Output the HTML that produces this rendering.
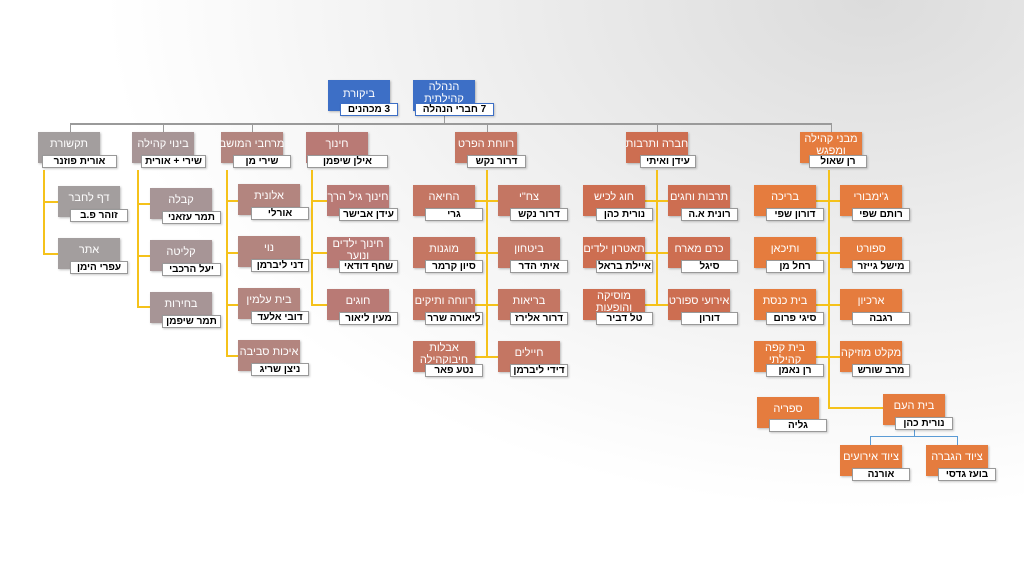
<!DOCTYPE html>
<html><head><meta charset="utf-8"><style>
body{margin:0;width:1024px;height:576px;overflow:hidden;background:radial-gradient(ellipse 900px 600px at 85% 0%,#dcdcdc 0%,#efefef 45%,#ffffff 85%);font-family:"Liberation Sans","DejaVu Sans",sans-serif;position:relative}
.b{position:absolute;width:62px;height:31px;color:#fff;font-size:11px;text-align:center;display:flex;align-items:flex-start;justify-content:center;line-height:12px;box-shadow:1px 1px 2px rgba(0,0,0,.25);direction:rtl;padding-top:6px;box-sizing:border-box;white-space:nowrap}
.b.t2{padding-top:1px}
.l{position:absolute;background:#fff;border:1px solid #999;font-size:10px;font-weight:bold;color:#000;height:11px;line-height:11px;text-align:center;direction:rtl;white-space:nowrap;box-shadow:1px 1px 2px rgba(0,0,0,.2)}
.y{position:absolute;background:#f5c21b}
.g{position:absolute;background:#9a9a9a}
.u{position:absolute;background:#5b9bd5}
.c1{background:#a39e9e}.c2{background:#a79596}.c3{background:#b3857f}.c4{background:#b97a75}.c5{background:#c47663}.c6{background:#cd6e51}.c7{background:#e57c3e}.cb{background:#3d6fc6}
</style></head><body>
<div class="g" style="left:70px;top:123px;width:762px;height:2px"></div>
<div class="g" style="left:444px;top:116px;width:1px;height:8px"></div>
<div class="g" style="left:70px;top:124px;width:1px;height:9px"></div>
<div class="g" style="left:163px;top:124px;width:1px;height:9px"></div>
<div class="g" style="left:252px;top:124px;width:1px;height:9px"></div>
<div class="g" style="left:338px;top:124px;width:1px;height:9px"></div>
<div class="g" style="left:487px;top:124px;width:1px;height:9px"></div>
<div class="g" style="left:657px;top:124px;width:1px;height:9px"></div>
<div class="g" style="left:831px;top:124px;width:1px;height:9px"></div>
<div class="y" style="left:43px;top:170px;width:2px;height:85px"></div>
<div class="y" style="left:43px;top:201px;width:15px;height:2px"></div>
<div class="y" style="left:43px;top:253px;width:15px;height:2px"></div>
<div class="y" style="left:137px;top:170px;width:2px;height:138px"></div>
<div class="y" style="left:137px;top:203px;width:13px;height:2px"></div>
<div class="y" style="left:137px;top:255px;width:13px;height:2px"></div>
<div class="y" style="left:137px;top:306px;width:13px;height:2px"></div>
<div class="y" style="left:226px;top:170px;width:2px;height:186px"></div>
<div class="y" style="left:226px;top:200px;width:12px;height:2px"></div>
<div class="y" style="left:226px;top:252px;width:12px;height:2px"></div>
<div class="y" style="left:226px;top:304px;width:12px;height:2px"></div>
<div class="y" style="left:226px;top:355px;width:12px;height:2px"></div>
<div class="y" style="left:311px;top:170px;width:2px;height:136px"></div>
<div class="y" style="left:311px;top:200px;width:16px;height:2px"></div>
<div class="y" style="left:311px;top:252px;width:16px;height:2px"></div>
<div class="y" style="left:311px;top:304px;width:16px;height:2px"></div>
<div class="y" style="left:486px;top:170px;width:2px;height:188px"></div>
<div class="y" style="left:475px;top:200px;width:23px;height:2px"></div>
<div class="y" style="left:475px;top:252px;width:23px;height:2px"></div>
<div class="y" style="left:475px;top:304px;width:23px;height:2px"></div>
<div class="y" style="left:475px;top:356px;width:23px;height:2px"></div>
<div class="y" style="left:656px;top:170px;width:2px;height:136px"></div>
<div class="y" style="left:645px;top:200px;width:23px;height:2px"></div>
<div class="y" style="left:645px;top:252px;width:23px;height:2px"></div>
<div class="y" style="left:645px;top:304px;width:23px;height:2px"></div>
<div class="y" style="left:828px;top:170px;width:2px;height:239px"></div>
<div class="y" style="left:816px;top:200px;width:24px;height:2px"></div>
<div class="y" style="left:816px;top:252px;width:24px;height:2px"></div>
<div class="y" style="left:816px;top:304px;width:24px;height:2px"></div>
<div class="y" style="left:816px;top:356px;width:24px;height:2px"></div>
<div class="y" style="left:828px;top:407px;width:55px;height:2px"></div>
<div class="u" style="left:914px;top:429px;width:1px;height:8px"></div>
<div class="u" style="left:870px;top:436px;width:88px;height:1px"></div>
<div class="u" style="left:870px;top:436px;width:1px;height:9px"></div>
<div class="u" style="left:957px;top:436px;width:1px;height:9px"></div>

<div class="b cb" style="left:328px;top:80px;padding-top:8px">ביקורת</div><div class="l" style="left:340px;top:103px;width:56px;border-color:#3d6fc6">3 מכהנים</div>
<div class="b cb t2" style="left:413px;top:80px">הנהלה<br>קהילתית</div><div class="l" style="left:415px;top:103px;width:77px;border-color:#3d6fc6">7 חברי הנהלה</div>

<div class="b c1" style="left:38px;top:132px">תקשורת</div><div class="l" style="left:42px;top:155px;width:73px">אורית פוזנר</div>
<div class="b c2" style="left:132px;top:132px">בינוי קהילה</div><div class="l" style="left:141px;top:155px;width:63px">שירי + אורית</div>
<div class="b c3" style="left:221px;top:132px">מרחבי המושב</div><div class="l" style="left:233px;top:155px;width:56px">שירי מן</div>
<div class="b c4" style="left:306px;top:132px">חינוך</div><div class="l" style="left:307px;top:155px;width:79px">אילן שיפמן</div>
<div class="b c5" style="left:455px;top:132px">רווחת הפרט</div><div class="l" style="left:467px;top:155px;width:57px">דרור נקש</div>
<div class="b c6" style="left:626px;top:132px">חברה ותרבות</div><div class="l" style="left:640px;top:155px;width:54px">עידן ואיתי</div>
<div class="b c7 t2" style="left:800px;top:132px">מבני קהילה<br>ומפגש</div><div class="l" style="left:809px;top:155px;width:56px">רן שאול</div>

<div class="b c1" style="left:58px;top:186px">דף לחבר</div><div class="l" style="left:70px;top:209px;width:56px">זוהר פ.ב</div>
<div class="b c1" style="left:58px;top:238px">אתר</div><div class="l" style="left:70px;top:261px;width:56px">עפרי הימן</div>
<div class="b c2" style="left:150px;top:188px">קבלה</div><div class="l" style="left:162px;top:211px;width:57px">תמר עזאני</div>
<div class="b c2" style="left:150px;top:240px">קליטה</div><div class="l" style="left:162px;top:263px;width:57px">יעל הרכבי</div>
<div class="b c2" style="left:150px;top:292px">בחירות</div><div class="l" style="left:162px;top:315px;width:57px">תמר שיפמן</div>
<div class="b c3" style="left:238px;top:184px">אלונית</div><div class="l" style="left:251px;top:207px;width:56px">אורלי</div>
<div class="b c3" style="left:238px;top:236px">נוי</div><div class="l" style="left:251px;top:259px;width:56px">דני ליברמן</div>
<div class="b c3" style="left:238px;top:288px">בית עלמין</div><div class="l" style="left:251px;top:311px;width:56px">דובי אלעד</div>
<div class="b c3" style="left:238px;top:340px">איכות סביבה</div><div class="l" style="left:251px;top:363px;width:56px">ניצן שריג</div>
<div class="b c4" style="left:327px;top:185px">חינוך גיל הרך</div><div class="l" style="left:339px;top:208px;width:57px">עידן אבישר</div>
<div class="b c4 t2" style="left:327px;top:237px">חינוך ילדים<br>ונוער</div><div class="l" style="left:339px;top:260px;width:57px">שחף דודאי</div>
<div class="b c4" style="left:327px;top:289px">חוגים</div><div class="l" style="left:339px;top:312px;width:57px">מעין ליאור</div>
<div class="b c5" style="left:413px;top:185px">החיאה</div><div class="l" style="left:425px;top:208px;width:56px">גרי</div>
<div class="b c5" style="left:413px;top:237px">מוגנות</div><div class="l" style="left:425px;top:260px;width:56px">סיון קרמר</div>
<div class="b c5" style="left:413px;top:289px">רווחה ותיקים</div><div class="l" style="left:425px;top:312px;width:56px">ליאורה שרר</div>
<div class="b c5 t2" style="left:413px;top:341px">אבלות<br>חיבוקהילה</div><div class="l" style="left:425px;top:364px;width:56px">נטע פאר</div>
<div class="b c5" style="left:498px;top:185px">צח"י</div><div class="l" style="left:510px;top:208px;width:56px">דרור נקש</div>
<div class="b c5" style="left:498px;top:237px">ביטחון</div><div class="l" style="left:510px;top:260px;width:56px">איתי הדר</div>
<div class="b c5" style="left:498px;top:289px">בריאות</div><div class="l" style="left:510px;top:312px;width:56px">דרור אלירז</div>
<div class="b c5" style="left:498px;top:341px">חיילים</div><div class="l" style="left:510px;top:364px;width:56px">דידי ליברמן</div>
<div class="b c6" style="left:583px;top:185px">חוג לכיש</div><div class="l" style="left:596px;top:208px;width:55px">נורית כהן</div>
<div class="b c6" style="left:583px;top:237px">תאטרון ילדים</div><div class="l" style="left:596px;top:260px;width:55px">איילת בראל</div>
<div class="b c6 t2" style="left:583px;top:289px">מוסיקה<br>והופעות</div><div class="l" style="left:596px;top:312px;width:55px">טל דביר</div>
<div class="b c6" style="left:668px;top:185px">תרבות וחגים</div><div class="l" style="left:681px;top:208px;width:55px">רונית א.ה</div>
<div class="b c6" style="left:668px;top:237px">כרם מארח</div><div class="l" style="left:681px;top:260px;width:55px">סיגל</div>
<div class="b c6" style="left:668px;top:289px">אירועי ספורט</div><div class="l" style="left:681px;top:312px;width:55px">דורון</div>
<div class="b c7" style="left:754px;top:185px">בריכה</div><div class="l" style="left:766px;top:208px;width:56px">דורון שפי</div>
<div class="b c7" style="left:754px;top:237px">ותיכאן</div><div class="l" style="left:766px;top:260px;width:56px">רחל מן</div>
<div class="b c7" style="left:754px;top:289px">בית כנסת</div><div class="l" style="left:766px;top:312px;width:56px">סיגי פרום</div>
<div class="b c7 t2" style="left:754px;top:341px">בית קפה<br>קהילתי</div><div class="l" style="left:766px;top:364px;width:56px">רן נאמן</div>
<div class="b c7" style="left:840px;top:185px">ג'ימבורי</div><div class="l" style="left:852px;top:208px;width:56px">רותם שפי</div>
<div class="b c7" style="left:840px;top:237px">ספורט</div><div class="l" style="left:852px;top:260px;width:56px">מישל גייזר</div>
<div class="b c7" style="left:840px;top:289px">ארכיון</div><div class="l" style="left:852px;top:312px;width:56px">רגבה</div>
<div class="b c7" style="left:840px;top:341px">מקלט מוזיקה</div><div class="l" style="left:852px;top:364px;width:56px">מרב שורש</div>
<div class="b c7" style="left:757px;top:397px">ספריה</div><div class="l" style="left:769px;top:419px;width:56px">גליה</div>
<div class="b c7" style="left:883px;top:394px">בית העם</div><div class="l" style="left:895px;top:417px;width:56px">נורית כהן</div>
<div class="b c7" style="left:840px;top:445px">ציוד אירועים</div><div class="l" style="left:852px;top:468px;width:56px">אורנה</div>
<div class="b c7" style="left:926px;top:445px">ציוד הגברה</div><div class="l" style="left:938px;top:468px;width:56px">בועז גדסי</div>
</body></html>
